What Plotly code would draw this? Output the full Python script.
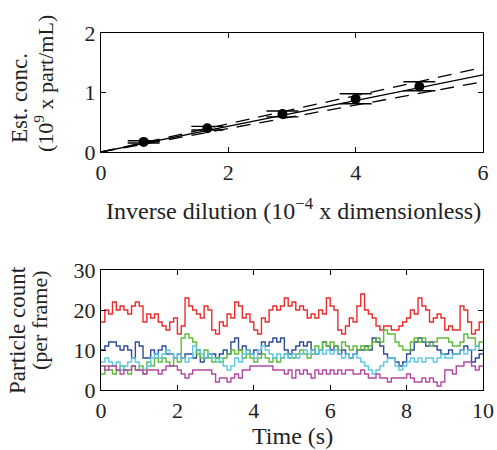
import plotly.graph_objects as go

# ---- Calibration: estimated concentration vs inverse dilution ----
inv_dilution = [0.67, 1.67, 2.85, 4.0, 5.0]
est_conc = [0.17, 0.40, 0.64, 0.89, 1.10]
err_plus = [0.02, 0.03, 0.05, 0.09, 0.08]
err_minus = [0.02, 0.03, 0.05, 0.08, 0.07]
fit_slope = 0.216
fit_slope_hi = 0.237
fit_slope_lo = 0.197
fit_x = [0, 6]

# ---- Particle counts per frame (0.1 s bins) ----
frame_dt = 0.1
red_counts = [17, 20, 19, 22, 20, 21, 20, 19, 21, 22,
              21, 17, 19, 18, 19, 17, 16, 15, 17, 18,
              14, 16, 23, 21, 20, 19, 18, 21, 20, 15,
              14, 17, 16, 19, 18, 22, 21, 18, 19, 17,
              15, 14, 18, 17, 20, 21, 20, 21, 23, 21,
              22, 20, 21, 20, 18, 19, 18, 20, 19, 23,
              21, 20, 15, 14, 16, 18, 17, 21, 24, 20,
              19, 18, 16, 15, 16, 16, 15, 15, 16, 17,
              18, 20, 19, 23, 21, 20, 17, 18, 19, 18,
              15, 16, 15, 15, 21, 20, 17, 14, 15, 17]
blue_counts = [10, 11, 12, 12, 11, 10, 11, 10, 8, 12,
               11, 8, 8, 10, 9, 10, 11, 9, 9, 8,
               9, 8, 9, 9, 8, 10, 7, 8, 9, 9,
               8, 9, 10, 9, 12, 13, 10, 11, 10, 9,
               10, 9, 12, 11, 12, 13, 12, 13, 10, 9,
               10, 11, 12, 11, 12, 10, 9, 10, 12, 11,
               10, 11, 9, 10, 9, 8, 9, 10, 10, 11,
               10, 13, 12, 11, 9, 8, 8, 7, 6, 7,
               9, 10, 12, 13, 12, 11, 12, 11, 10, 9,
               9, 10, 9, 9, 10, 11, 10, 7, 8, 9]
green_counts = [4, 6, 5, 4, 5, 6, 5, 4, 6, 5,
                6, 5, 7, 6, 8, 7, 8, 7, 6, 8,
                7, 13, 14, 13, 12, 9, 8, 10, 8, 7,
                8, 7, 8, 9, 10, 9, 10, 8, 9, 8,
                7, 8, 9, 8, 7, 8, 7, 8, 9, 8,
                8, 9, 10, 9, 8, 9, 11, 10, 12, 11,
                12, 11, 10, 12, 11, 10, 11, 10, 11, 10,
                11, 12, 13, 12, 15, 14, 14, 12, 11, 10,
                10, 12, 13, 12, 13, 12, 11, 12, 13, 13,
                13, 12, 11, 11, 12, 14, 13, 13, 11, 12]
cyan_counts = [7, 8, 7, 6, 7, 5, 6, 7, 8, 7,
               5, 4, 6, 8, 9, 8, 9, 10, 9, 8,
               9, 8, 7, 8, 11, 10, 9, 8, 9, 8,
               7, 8, 6, 5, 6, 8, 7, 9, 10, 9,
               8, 10, 11, 10, 9, 8, 9, 8, 9, 8,
               9, 8, 9, 10, 9, 10, 9, 10, 9, 10,
               9, 10, 9, 8, 9, 8, 9, 8, 7, 6,
               5, 4, 5, 6, 7, 8, 8, 6, 5, 6,
               7, 8, 7, 8, 7, 8, 8, 7, 8, 9,
               8, 8, 9, 9, 10, 9, 10, 10, 11, 10]
magenta_counts = [6, 5, 6, 6, 5, 4, 5, 5, 6, 5,
                  5, 4, 5, 5, 5, 4, 5, 6, 6, 6,
                  5, 4, 3, 4, 5, 5, 5, 5, 5, 4,
                  2, 3, 3, 2, 3, 4, 3, 5, 5, 6,
                  6, 6, 6, 6, 6, 5, 5, 5, 4, 5,
                  3, 5, 4, 5, 4, 3, 5, 4, 5, 4,
                  5, 4, 5, 4, 5, 5, 4, 4, 5, 4,
                  3, 3, 4, 3, 3, 2, 3, 3, 3, 3,
                  4, 3, 2, 2, 3, 2, 3, 2, 1, 2,
                  5, 5, 4, 6, 6, 7, 7, 6, 5, 6]

series = [
    (red_counts, "#ee2a2a"),
    (blue_counts, "#2f4c9c"),
    (green_counts, "#5dbb3c"),
    (cyan_counts, "#5ec8e2"),
    (magenta_counts, "#b548a4"),
]

FONT = "Liberation Serif"
INK = "#222222"
W, H = 497, 450

fig = go.Figure()

# Fit line and confidence bounds
fig.add_trace(go.Scatter(x=fit_x, y=[fit_slope * v for v in fit_x], mode="lines",
                         line=dict(color="black", width=1.3),
                         xaxis="x", yaxis="y", showlegend=False))
for s in (fit_slope_hi, fit_slope_lo):
    fig.add_trace(go.Scatter(x=fit_x, y=[s * v for v in fit_x], mode="lines",
                             line=dict(color="black", width=1.3, dash="14px,9px"),
                             xaxis="x", yaxis="y", showlegend=False))

# Measured points with error bars
fig.add_trace(go.Scatter(
    x=inv_dilution, y=est_conc, mode="markers",
    marker=dict(color="black", size=10),
    error_y=dict(type="data", symmetric=False, array=err_plus, arrayminus=err_minus,
                 color="black", thickness=1.4, width=16),
    xaxis="x", yaxis="y", showlegend=False))

# Count traces
for counts, color in series:
    t = [i * frame_dt for i in range(len(counts))] + [len(counts) * frame_dt]
    y = counts + [counts[-1]]
    fig.add_trace(go.Scatter(x=t, y=y, mode="lines", line_shape="hv",
                             line=dict(color=color, width=1.4),
                             xaxis="x2", yaxis="y2", showlegend=False))

axis_common = dict(showgrid=False, zeroline=False, showline=True, linecolor="black",
                   linewidth=1.4, mirror="ticks", ticks="inside", ticklen=5,
                   tickcolor="black", tickwidth=1, automargin=False,
                   tickfont=dict(family=FONT, size=22, color=INK))


def px_dom_x(a, b):
    return [a / W, b / W]


def px_dom_y(top, bottom):
    return [1 - bottom / H, 1 - top / H]


def label(text, x, y, angle=0, size=24):
    return dict(text=text, textangle=angle, x=x / W, y=1 - y / H,
                xref="paper", yref="paper", showarrow=False,
                xanchor="center", yanchor="middle",
                font=dict(family=FONT, size=size, color=INK))


fig.update_layout(
    width=W, height=H, autosize=False,
    margin=dict(l=0, r=0, t=0, b=0, pad=0),
    paper_bgcolor="white", plot_bgcolor="white",
    xaxis=dict(domain=px_dom_x(101, 483), range=[0, 6], tickvals=[0, 2, 4, 6],
               anchor="y", **axis_common),
    yaxis=dict(domain=px_dom_y(33, 152), range=[0, 2], tickvals=[0, 1, 2],
               anchor="x", **axis_common),
    xaxis2=dict(domain=px_dom_x(101, 483), range=[0, 10], tickvals=[0, 2, 4, 6, 8, 10],
                anchor="y2", **axis_common),
    yaxis2=dict(domain=px_dom_y(270, 390), range=[0, 30], tickvals=[0, 10, 20, 30],
                anchor="x2", **axis_common),
    annotations=[
        label("Est. conc.", 20, 98, -90, 23),
        label("(10<sup>9</sup> x part/mL)", 44, 84, -90, 22),
        label("Inverse dilution (10<sup>\u22124</sup> x dimensionless)", 293, 209),
        label("Particle count", 17, 330, -90, 23),
        label("(per frame)", 39, 320, -90, 22),
        label("Time (s)", 292, 436),
    ],
)

fig.write_html("out.html")
